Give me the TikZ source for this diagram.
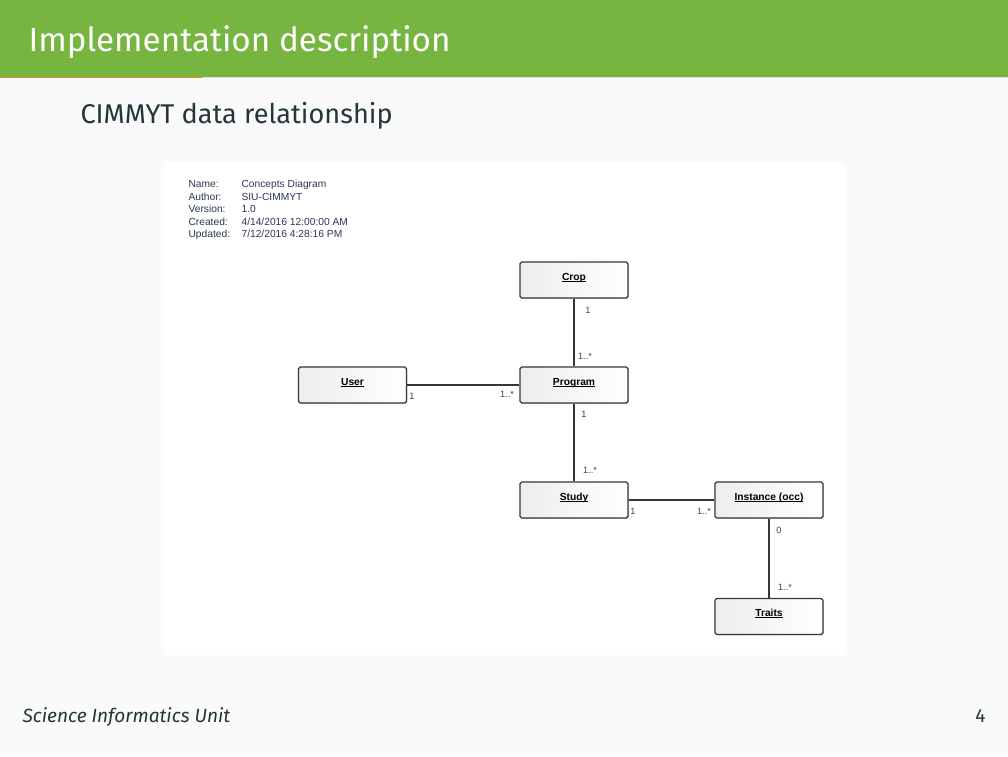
\documentclass[tikz,border=0pt]{standalone}
\usepackage{fontspec}
\setmainfont{Fira Sans}
\newfontfamily\umlfont{Liberation Sans}
\usetikzlibrary{shadows}
\tikzset{>=latex}
\definecolor{headgreen}{RGB}{118,181,64}
\definecolor{barorange}{RGB}{235,129,27}
\definecolor{pagebg}{RGB}{250,250,250}
\definecolor{darkteal}{RGB}{35,55,59}
\definecolor{metablue}{RGB}{45,55,85}
\definecolor{umlline}{RGB}{55,55,55}
\newcommand\umlul[1]{\setbox0\hbox{#1}\rlap{\rule[-0.45pt]{\wd0}{0.22pt}}\box0}
\tikzset{
  umlbox/.style={draw=umlline, line width=0.45pt, rounded corners=0.6pt,
    minimum width=13.7mm, minimum height=4.55mm, inner sep=0pt,
    text height=2.6pt, text depth=2.6pt,
    left color=black!7, right color=white,
    drop shadow={shadow xshift=0.35pt, shadow yshift=-0.35pt, opacity=0.35},
    font=\umlfont\fontsize{3.7}{4.4}\selectfont\bfseries},
  assoc/.style={draw=umlline, line width=0.45pt},
  mult/.style={inner sep=0pt, text=black!75, font=\umlfont\fontsize{3.3}{4}\selectfont},
  meta/.style={inner sep=0pt, anchor=base west, text=metablue, font=\umlfont\fontsize{3.7}{4.4}\selectfont}
}

\begin{document}
\begin{tikzpicture}[x=0.127mm, y=-0.127mm]
	\useasboundingbox (0,0) rectangle (1008,756);
	\fill[pagebg] (0,0) rectangle (1008,756);
	\fill[headgreen] (0,0) rectangle (1008,77);
	\fill[black!12] (202,77) rectangle (1008,78.2);
	\fill[barorange] (0,77) rectangle (202,78.2);
	\node[anchor=base west, inner sep=0pt, text=white, font=\fontsize{12}{15}\selectfont] (title) at (28,51) {Implementation description};
	\node[anchor=base west, inner sep=0pt, text=darkteal, font=\fontsize{9.8}{12}\selectfont] (subtitle) at (80,123) {CIMMYT data relationship};
	\fill[white] (164,162) rectangle (845,655);

	\node[meta] (nameK) at (188,187.5) {Name:};
	\node[meta] (authorK) at (188,200) {Author:};
	\node[meta] (versionK) at (188,212.5) {Version:};
	\node[meta] (createdK) at (188,225) {Created:};
	\node[meta] (updatedK) at (188,237.5) {Updated:};
	\node[meta] (nameV) at (241,187.5) {Concepts Diagram};
	\node[meta] (authorV) at (241,200) {SIU-CIMMYT};
	\node[meta] (versionV) at (241,212.5) {1.0};
	\node[meta] (createdV) at (241,225) {4/14/2016 12:00:00 AM};
	\node[meta] (updatedV) at (241,237.5) {7/12/2016 4:28:16 PM};

	\node[umlbox] (crop) at (574,280) {\umlul{Crop}};
	\node[umlbox] (user) at (352.5,385) {\umlul{User}};
	\node[umlbox] (program) at (574,385) {\umlul{Program}};
	\node[umlbox] (study) at (574,500) {\umlul{Study}};
	\node[umlbox] (instance) at (769,500) {\umlul{Instance (occ)}};
	\node[umlbox] (traits) at (769,616.5) {\umlul{Traits}};

	\draw[assoc] (crop) -- (program);
	\draw[assoc] (user) -- (program);
	\draw[assoc] (program) -- (study);
	\draw[assoc] (study) -- (instance);
	\draw[assoc] (instance) -- (traits);

	\node[mult] (cropM) at (588,310) {1};
	\node[mult] (programTopM) at (585,356) {1..*};
	\node[mult] (userM) at (412,396) {1};
	\node[mult] (programLeftM) at (507,394) {1..*};
	\node[mult] (programBotM) at (584,414) {1};
	\node[mult] (studyTopM) at (590,470) {1..*};
	\node[mult] (studyM) at (633,511) {1};
	\node[mult] (instanceLeftM) at (704,511) {1..*};
	\node[mult] (instanceM) at (779,530) {0};
	\node[mult] (traitsM) at (785,587) {1..*};

	\node[anchor=base west, inner sep=0pt, text=darkteal, font=\itshape\fontsize{6.9}{9}\selectfont] (footer) at (22,722) {Science Informatics Unit};
	\node[anchor=base east, inner sep=0pt, text=darkteal, font=\fontsize{6.9}{9}\selectfont] (pagenum) at (986,722) {4};
\end{tikzpicture}
\end{document}
